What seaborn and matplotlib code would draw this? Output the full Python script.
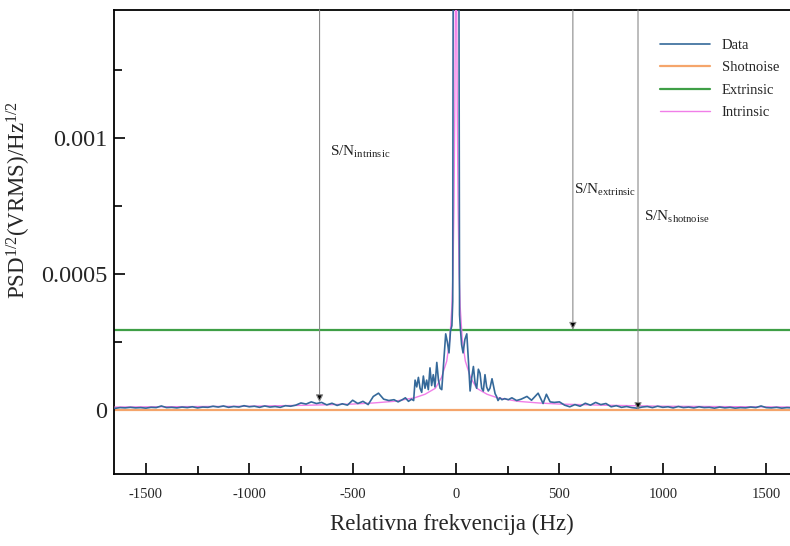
import numpy as np
import pandas as pd
import matplotlib
matplotlib.use('Agg')
import matplotlib.pyplot as plt
import seaborn as sns

# measured spectrum, values in units of 1e-5 VRMS/Hz^1/2
data_freq = [-1650, -1625, -1600, -1575, -1550, -1525, -1500, -1475, -1450, -1425,
             -1400, -1375, -1350, -1325, -1300, -1275, -1250, -1225, -1200, -1175,
             -1150, -1125, -1100, -1075, -1050, -1025, -1000, -975, -950, -925,
             -900, -875, -850, -825, -800, -775, -750, -725, -700, -675,
             -650, -625, -600, -575, -550, -525, -500, -475, -450, -425,
             -400, -375, -350, -325, -300, -280, -260, -245, -230, -215,
             -205, -198, -190, -182, -174, -166, -158, -150, -142, -134,
             -126, -118, -110, -102, -93, -85, -77, -69, -60, -50,
             -42, -34, -27, -20, -16, -13, -8, 0, 8, 13,
             17, 21, 27, 34, 43, 52, 60, 68, 76, 84,
             92, 100, 108, 116, 124, 132, 140, 148, 156, 164,
             174, 182, 189, 196, 203, 212, 222, 235, 253, 270,
             293, 315, 343, 365, 397, 421, 437, 455, 475, 500,
             525, 550, 575, 600, 625, 650, 675, 700, 725, 750,
             775, 800, 825, 850, 875, 900, 925, 950, 975, 1000,
             1025, 1050, 1075, 1100, 1125, 1150, 1175, 1200, 1225, 1250,
             1275, 1300, 1325, 1350, 1375, 1400, 1425, 1450, 1475, 1500,
             1525, 1550, 1575, 1600, 1625]
data_psd = [0.6, 0.9, 0.8, 1.0, 0.8, 0.9, 0.7, 1.0, 0.9, 1.5,
            0.9, 1.0, 0.8, 1.1, 0.9, 1.2, 0.8, 1.1, 1.0, 1.4,
            1.1, 1.5, 1.0, 1.3, 1.1, 1.6, 1.2, 1.4, 1.0, 1.5,
            1.1, 1.3, 1.0, 1.6, 1.4, 1.8, 2.6, 2.2, 3.0, 2.4,
            2.8, 1.9, 2.5, 1.7, 2.3, 1.8, 3.6, 2.4, 3.2, 2.0,
            5.0, 6.2, 4.0, 3.5, 3.8, 3.0, 3.8, 4.5, 3.2, 4.0,
            3.5, 11.0, 8.5, 12.0, 8.0, 6.5, 12.5, 8.0, 11.0, 7.5,
            15.5, 9.0, 13.0, 8.5, 17.5, 11.0, 8.0, 7.5, 17.0, 28.0,
            25.0, 21.0, 29.0, 31.0, 40.0, 200.0, 400.0, 500.0, 400.0, 200.0,
            35.0, 30.0, 24.0, 21.0, 26.0, 28.0, 18.0, 7.0, 12.0, 16.0,
            10.0, 8.0, 15.0, 13.5, 8.0, 7.0, 13.0, 8.5, 7.0, 8.0,
            11.5, 8.5, 6.0, 5.0, 3.5, 4.5, 3.8, 4.2, 3.8, 4.5,
            3.5, 4.0, 5.0, 3.6, 6.2, 2.4, 5.8, 3.0, 2.8, 3.0,
            1.8, 1.2, 2.0, 1.4, 2.5, 1.8, 2.8, 2.0, 2.4, 1.2,
            1.6, 1.0, 1.3, 0.9, 0.7, 1.1, 1.3, 0.9, 1.4, 1.0,
            1.2, 0.8, 1.3, 0.9, 1.1, 0.8, 1.2, 0.9, 1.0, 0.7,
            1.1, 0.8, 1.0, 0.7, 0.9, 0.8, 1.1, 0.9, 1.5, 0.9,
            0.8, 1.0, 0.7, 0.9, 0.8]

# intrinsic (lorentzian-like) curve, same units
intr_freq = [-1650, -1000, -700, -500, -400, -300, -200, -150, -100, -70, -45, -30,
             -20, -15, -10, -6, -3, 0, 3, 6, 10, 15, 20, 30, 45, 70, 100, 150,
             200, 300, 400, 500, 700, 1000, 1625]
intr_psd = [1.1, 1.4, 1.8, 2.2, 2.6, 3.2, 4.5, 5.8, 8.0, 12.0, 18.0, 26.0,
            38.0, 50.0, 75.0, 110.0, 150.0, 160.0, 150.0, 110.0, 75.0, 50.0, 38.0, 26.0,
            18.0, 12.0, 8.0, 5.8, 4.5, 3.2, 2.6, 2.2, 1.8, 1.4, 1.1]

shotnoise_level = 0.0
extrinsic_level = 29.5

# S/N arrows: (label, freq, tip value, text freq, text value)
sn_arrows = [
    ('intrinsic', -660, 2.9, -610, 95.0),
    ('extrinsic', 565, 29.5, 572, 81.0),
    ('shotnoise', 880, 0.0, 910, 71.0),
]

scale = 1e-5
df = pd.DataFrame({'freq': data_freq, 'psd': np.array(data_psd) * scale})
df_intr = pd.DataFrame({'freq': intr_freq, 'psd': np.array(intr_psd) * scale})

sns.set_style('ticks')
plt.rcParams['font.family'] = ['Liberation Serif', 'DejaVu Serif']
plt.rcParams['mathtext.default'] = 'regular'
plt.rcParams['axes.unicode_minus'] = False

fig = plt.figure(figsize=(7.9, 5.46), dpi=100)
ax = fig.add_axes([114 / 790, 72 / 546, 676 / 790, 464 / 546])

ax.axhline(shotnoise_level * scale, color='#f5a56b', lw=1.6, label='Shotnoise', zorder=2)
ax.axhline(extrinsic_level * scale, color='#3f9f46', lw=1.6, label='Extrinsic', zorder=2)
sns.lineplot(data=df_intr, x='freq', y='psd', ax=ax, color='#f07ee8', lw=1.0,
             label='Intrinsic', zorder=3)
sns.lineplot(data=df, x='freq', y='psd', ax=ax, color='#35699a', lw=1.2,
             label='Data', zorder=4)

for name, f, tip, tf, tv in sn_arrows:
    ax.annotate('', xy=(f, tip * scale), xycoords='data',
                xytext=(f, 1.0), textcoords=('data', 'axes fraction'),
                arrowprops=dict(arrowstyle='-|>', facecolor='black', edgecolor='#8a8a8a',
                                lw=0.8, mutation_scale=11, shrinkA=0, shrinkB=0),
                zorder=5)
    ax.text(tf, tv * scale, 'S/N$_{' + name + '}$', fontsize=11, color='#222222',
            va='center', ha='left')

ax.set_xlim(-1654, 1615)
ax.set_ylim(-0.000235, 0.00147)
ax.set_xticks([-1500, -1000, -500, 0, 500, 1000, 1500])
ax.set_xticklabels(['-1500', '-1000', '-500', '0', '500', '1000', '1500'])
ax.set_xticks([-1250, -750, -250, 250, 750, 1250], minor=True)
ax.set_yticks([0, 0.0005, 0.001])
ax.set_yticklabels(['0', '0.0005', '0.001'])
ax.set_yticks([0.00025, 0.00075, 0.00125], minor=True)
ax.tick_params(axis='both', which='both', direction='in', width=1.2, color='black')
ax.tick_params(axis='both', which='major', length=8)
ax.tick_params(axis='both', which='minor', length=6)
ax.tick_params(axis='x', labelsize=10.5, pad=10)
ax.tick_params(axis='y', labelsize=17.5, pad=5)

for side in ['left', 'top', 'bottom']:
    ax.spines[side].set_linewidth(1.3)
    ax.spines[side].set_color('black')
ax.spines['right'].set_visible(False)

ax.set_xlabel('Relativna frekvencija (Hz)', fontsize=16.5, labelpad=9)
ax.set_ylabel('PSD$^{1/2}$(VRMS)/Hz$^{1/2}$', fontsize=16.5)
ax.yaxis.set_label_coords(-0.12, 0.59)

handles, labels = ax.get_legend_handles_labels()
order = [labels.index(k) for k in ['Data', 'Shotnoise', 'Extrinsic', 'Intrinsic']]
ax.legend([handles[i] for i in order], [labels[i] for i in order],
          loc='upper right', bbox_to_anchor=(1.003, 0.966), frameon=False,
          fontsize=10.5, handlelength=3.4, labelspacing=0.62, handletextpad=0.8)

fig.savefig('out.png', dpi=100)
